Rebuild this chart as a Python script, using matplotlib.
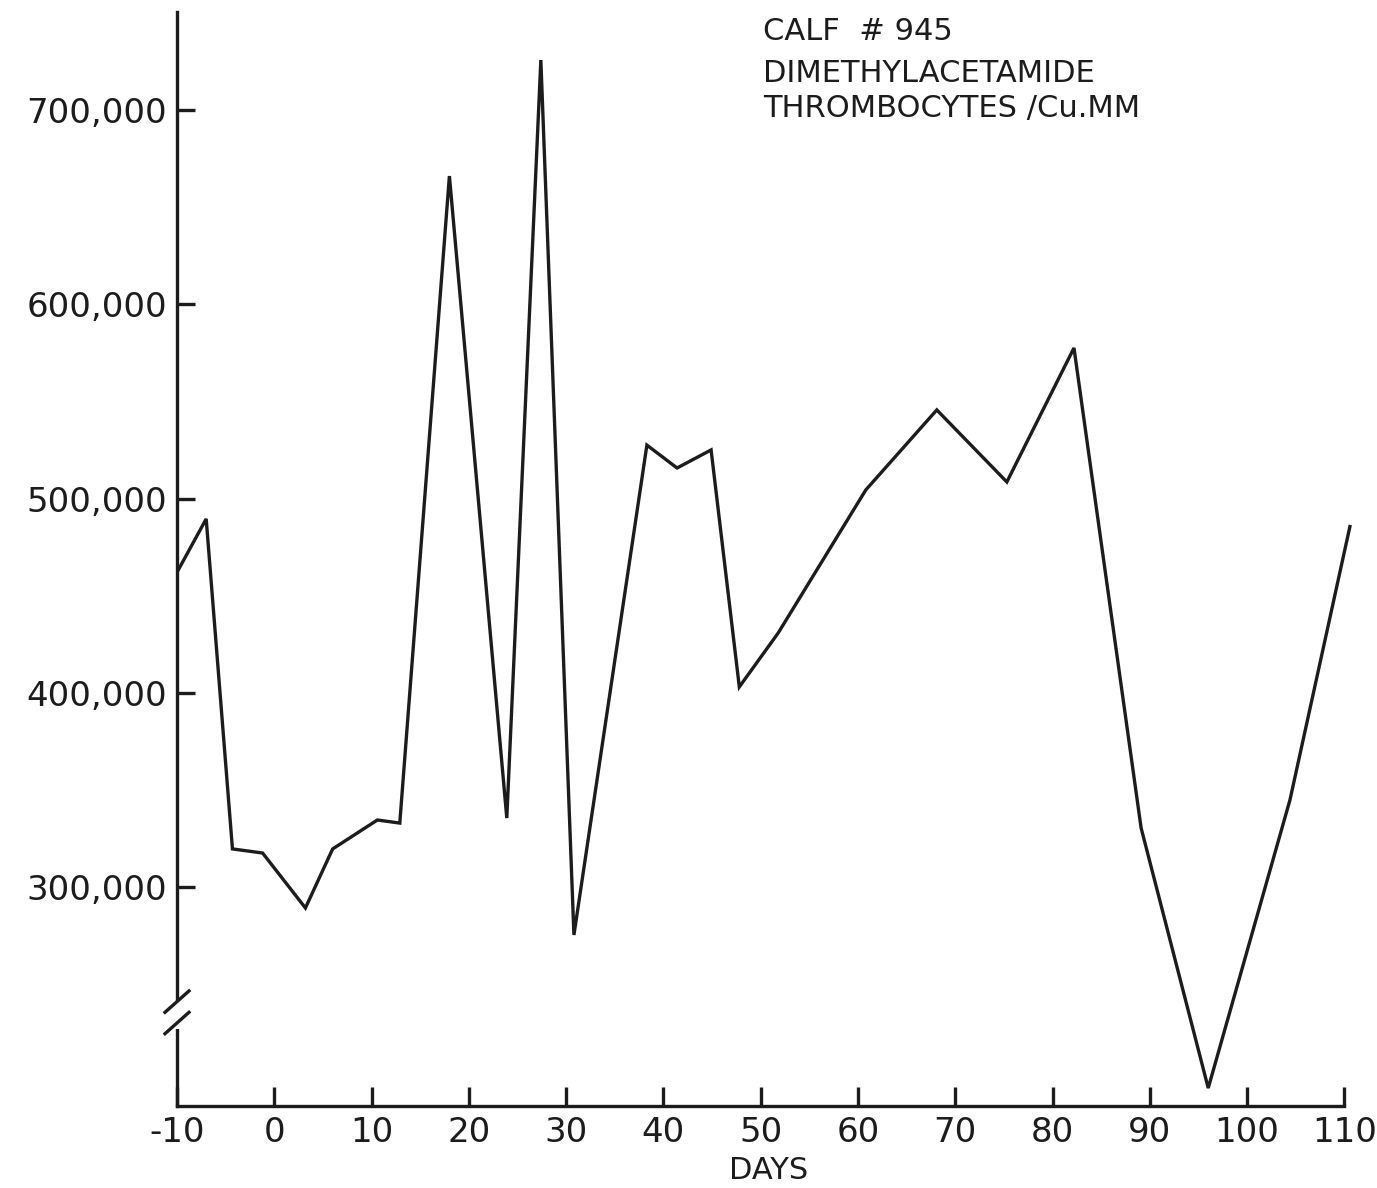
import matplotlib
matplotlib.use("Agg")
import matplotlib.pyplot as plt
from matplotlib.transforms import blended_transform_factory

# Thrombocyte counts for calf #945 (per cu. mm) by day
days = [-10, -7.0, -4.3, -1.2, 3.2, 6.0, 10.6, 12.9, 18.0, 23.9, 27.4, 30.8,
        38.3, 41.4, 44.9, 47.8, 51.8, 60.8, 68.1, 75.3, 82.2, 89.1, 96.0,
        104.4, 110.6]
counts = [462000, 489500, 319600, 317500, 289200, 319600, 334500, 332900,
          666000, 335500, 725700, 275300, 527500, 515700, 525000, 403000,
          430800, 504400, 545600, 508500, 577500, 330400, 196500, 344800,
          486400]

x_ticks = [-10, 0, 10, 20, 30, 40, 50, 60, 70, 80, 90, 100, 110]
x_labels = ["-10", "0", "10", "20", "30", "40", "50", "60", "70", "80",
            "90", "100", "110"]
y_ticks = [300000, 400000, 500000, 600000, 700000]
y_labels = ["300,000", "400,000", "500,000", "600,000", "700,000"]
title_lines = ["CALF  # 945", "DIMETHYLACETAMIDE", "THROMBOCYTES /Cu.MM"]

W, H = 1377, 1188
ink = "#1c1c1c"
plt.rcParams["font.family"] = ["DejaVu Sans"]

fig = plt.figure(figsize=(W / 100, H / 100), dpi=100)
fig.patch.set_facecolor("white")
ax = fig.add_axes([177 / W, (H - 1106) / H, (1360 - 177) / W, (1106 - 12) / H])

ax.plot(days, counts, color=ink, lw=2.4, solid_joinstyle="miter",
        solid_capstyle="butt", zorder=3)

ax.set_xlim(-10, 111.6)
ax.set_ylim(187260, 750450)

for s in ("top", "right"):
    ax.spines[s].set_visible(False)
for s in ("left", "bottom"):
    ax.spines[s].set_linewidth(2.4)
    ax.spines[s].set_color(ink)
ax.spines["bottom"].set_bounds(-10, 110)

ax.set_xticks(x_ticks)
ax.set_xticklabels(x_labels)
ax.set_yticks(y_ticks)
ax.set_yticklabels(y_labels)
ax.tick_params(axis="both", direction="in", width=2.4, color=ink,
               labelcolor=ink, labelsize=24.5)
ax.tick_params(axis="y", length=13, pad=7)
ax.tick_params(axis="x", length=14, pad=7)

ax.set_xlabel("DAYS", fontsize=22, color=ink, labelpad=5)

# axis break on the y axis
tr = blended_transform_factory(ax.transAxes, ax.transData)
ax_w_px = 1360 - 177
gap_lo, gap_hi = 229000, 240000
ax.plot([0, 0], [gap_lo, gap_hi], transform=tr, color="white", lw=5,
        clip_on=False, zorder=4)
dx = 12 / ax_w_px
for yc in (241000, 230000):
    ax.plot([-dx, dx], [yc - 5500, yc + 5500], transform=tr, color=ink,
            lw=2.4, clip_on=False, zorder=5)

# heading block
baselines = [40, 82, 117]
sizes = [22, 22, 22]
for txt, yb, fs in zip(title_lines, baselines, sizes):
    fig.text(763 / W, 1 - yb / H, txt, fontsize=fs, color=ink,
             ha="left", va="baseline")

fig.savefig("out.png", dpi=100, facecolor="white")
